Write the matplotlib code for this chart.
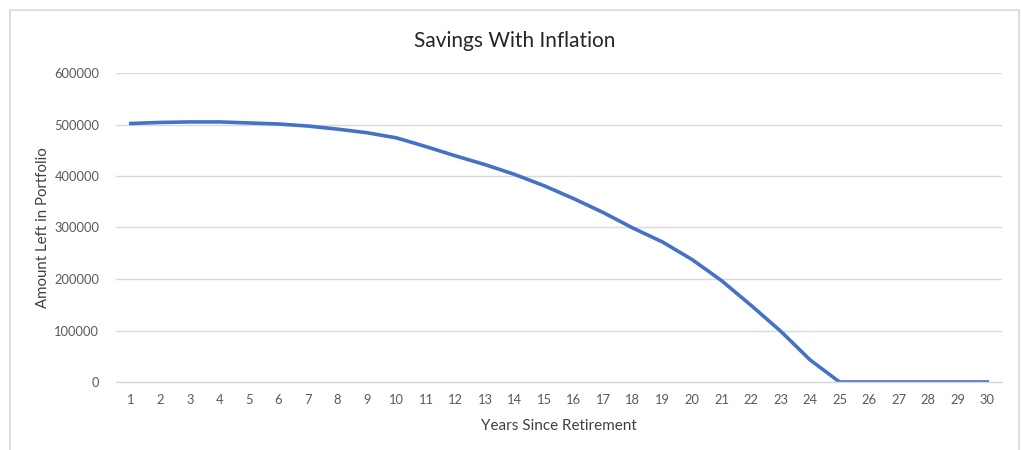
import matplotlib
matplotlib.use("Agg")
import matplotlib.pyplot as plt
from matplotlib.patches import Rectangle

years = list(range(1, 31))
amount = [502000, 504000, 505000, 505000, 503000, 501000, 497000, 491000,
          484000, 474000, 457000, 439000, 422000, 403000, 381000, 356000,
          329000, 299000, 272000, 238000, 197000, 149000, 99000, 43000,
          0, 0, 0, 0, 0, 0]
yticks = [0, 100000, 200000, 300000, 400000, 500000, 600000]

plt.rcParams['font.family'] = ['Lato', 'DejaVu Sans']

W, H = 1021, 450
fig = plt.figure(figsize=(W / 100, H / 100), dpi=100)
fig.patch.set_facecolor('white')

# chart border
fig.patches.append(Rectangle((10 / W, -0.05), (1019 - 10) / W, 1.05 - 10 / H,
                             transform=fig.transFigure, fill=False,
                             edgecolor='#d9d9d9', linewidth=1.2))

left, right = 116 / W, 1002 / W
top, bottom = 1 - 73 / H, 1 - 382 / H
ax = fig.add_axes([left, bottom, right - left, top - bottom])

ax.plot(years, amount, color='#4472c4', linewidth=2.6, solid_joinstyle='round')

ax.set_xlim(0.5, 30.5)
ax.set_ylim(0, 600000)
ax.set_xticks(years)
ax.set_xticklabels([str(y) for y in years])
ax.set_yticks(yticks)
ax.set_yticklabels([str(v) for v in yticks])
ax.yaxis.grid(True, color='#d9d9d9', linewidth=1)
ax.set_axisbelow(True)
for s in ['top', 'right', 'left']:
    ax.spines[s].set_visible(False)
ax.spines['bottom'].set_color('#d9d9d9')
ax.spines['bottom'].set_linewidth(1)
ax.tick_params(axis='both', length=0, labelsize=9.3, colors='#595959')
ax.tick_params(axis='x', pad=9)
ax.tick_params(axis='y', pad=12)

ax.set_xlabel('Years Since Retirement', fontsize=11, color='#404040', labelpad=9)
ax.set_ylabel('Amount Left in Portfolio', fontsize=10.8, color='#404040', labelpad=3)

fig.text(515 / W, 1 - 41 / H, 'Savings With Inflation',
         ha='center', va='center', fontsize=15, color='#262626')

fig.savefig('out.png', dpi=100, facecolor='white')
